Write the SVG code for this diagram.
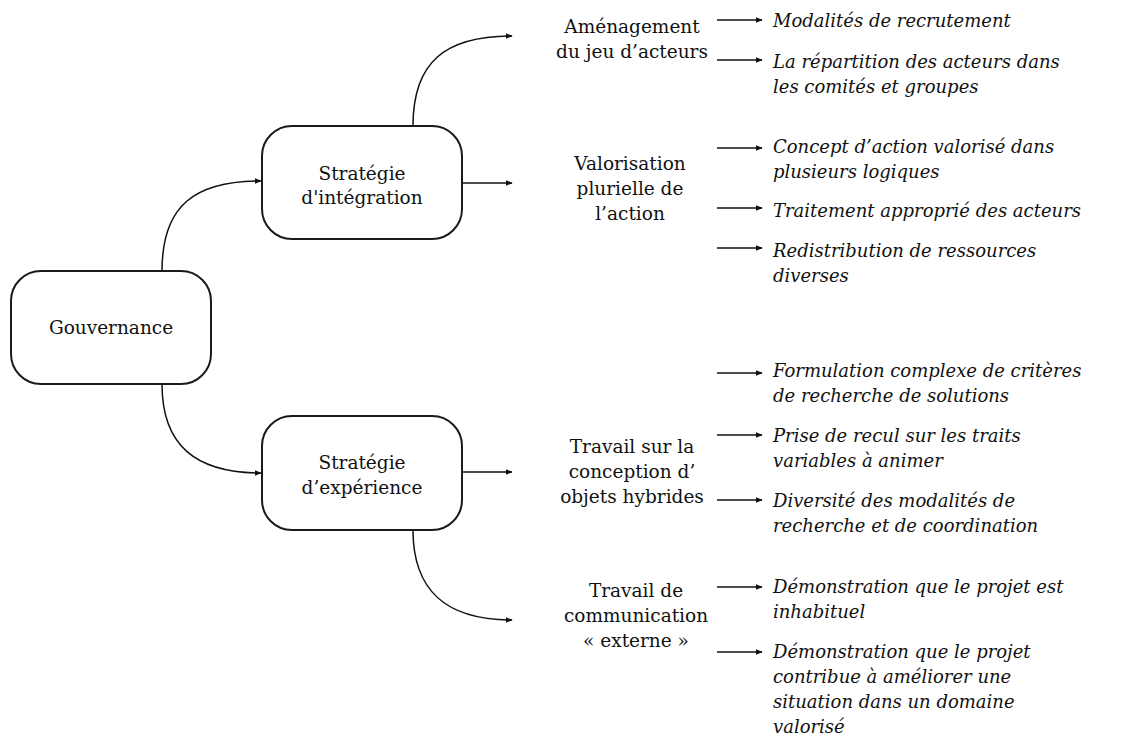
<svg xmlns="http://www.w3.org/2000/svg" width="1138" height="736" viewBox="0 0 1138 736">
<defs>
<marker id="ah" viewBox="0 0 10 10" refX="9" refY="5" markerWidth="7" markerHeight="7" markerUnits="userSpaceOnUse" orient="auto">
<path d="M0,1 L10,5 L0,9 Z" fill="#111"/>
</marker>
<style>
.box{fill:#fff;stroke:#1a1a1a;stroke-width:2}
.t{font-family:"DejaVu Serif","Liberation Serif",serif;font-size:18.5px;fill:#111;text-anchor:middle}
.i{font-family:"DejaVu Serif","Liberation Serif",serif;font-size:18px;font-style:italic;fill:#111}
.c{fill:none;stroke:#111;stroke-width:1.5;marker-end:url(#ah)}
</style>
</defs>
<rect width="1138" height="736" fill="#fff"/>
<g id="connectors">
<path class="c" d="M162,271 C162,205 195,181 261,181"/>
<path class="c" d="M162,384 C162,445 195,473 261,473"/>
<path class="c" d="M413,126 C413,62 445,36 512,36"/>
<path class="c" d="M462,183 L512,183"/>
<path class="c" d="M462,472 L512,472"/>
<path class="c" d="M413,530 C413,590 445,620 512,620"/>
<path class="c" d="M717,20 L762,20"/>
<path class="c" d="M717,60 L762,60"/>
<path class="c" d="M717,148 L762,148"/>
<path class="c" d="M717,208 L762,208"/>
<path class="c" d="M717,248 L762,248"/>
<path class="c" d="M717,373 L762,373"/>
<path class="c" d="M717,435 L762,435"/>
<path class="c" d="M717,500 L762,500"/>
<path class="c" d="M717,587 L762,587"/>
<path class="c" d="M717,652 L762,652"/>
</g>
<g id="gouvernance">
<rect class="box" x="11" y="271" width="200" height="113" rx="30"/>
<text class="t" x="111" y="334">Gouvernance</text>
</g>
<g id="strategie-integration">
<rect class="box" x="262" y="126" width="200" height="113" rx="30"/>
<text class="t" x="362" y="180">Stratégie</text>
<text class="t" x="362" y="204">d'intégration</text>
</g>
<g id="strategie-experience">
<rect class="box" x="262" y="416" width="200" height="114" rx="30"/>
<text class="t" x="362" y="469">Stratégie</text>
<text class="t" x="362" y="494">d’expérience</text>
</g>
<g id="amenagement">
<text class="t" x="632" y="33">Aménagement</text>
<text class="t" x="632" y="58">du jeu d’acteurs</text>
</g>
<g id="valorisation">
<text class="t" x="630" y="170">Valorisation</text>
<text class="t" x="630" y="195">plurielle de</text>
<text class="t" x="630" y="220">l’action</text>
</g>
<g id="travail-conception">
<text class="t" x="632" y="453">Travail sur la</text>
<text class="t" x="632" y="478">conception d’</text>
<text class="t" x="632" y="503">objets hybrides</text>
</g>
<g id="travail-communication">
<text class="t" x="636" y="597">Travail de</text>
<text class="t" x="636" y="622">communication</text>
<text class="t" x="636" y="647">« externe »</text>
</g>
<g id="leaves">
<text class="i" x="773" y="27">Modalités de recrutement</text>
<text class="i" x="773" y="68">La répartition des acteurs dans</text>
<text class="i" x="773" y="93">les comités et groupes</text>
<text class="i" x="773" y="153">Concept d’action valorisé dans</text>
<text class="i" x="773" y="178">plusieurs logiques</text>
<text class="i" x="773" y="217">Traitement approprié des acteurs</text>
<text class="i" x="773" y="257">Redistribution de ressources</text>
<text class="i" x="773" y="282">diverses</text>
<text class="i" x="773" y="377">Formulation complexe de critères</text>
<text class="i" x="773" y="402">de recherche de solutions</text>
<text class="i" x="773" y="442">Prise de recul sur les traits</text>
<text class="i" x="773" y="467">variables à animer</text>
<text class="i" x="773" y="507">Diversité des modalités de</text>
<text class="i" x="773" y="532">recherche et de coordination</text>
<text class="i" x="773" y="593">Démonstration que le projet est</text>
<text class="i" x="773" y="618">inhabituel</text>
<text class="i" x="773" y="658">Démonstration que le projet</text>
<text class="i" x="773" y="683">contribue à améliorer une</text>
<text class="i" x="773" y="708">situation dans un domaine</text>
<text class="i" x="773" y="733">valorisé</text>
</g>
</svg>
